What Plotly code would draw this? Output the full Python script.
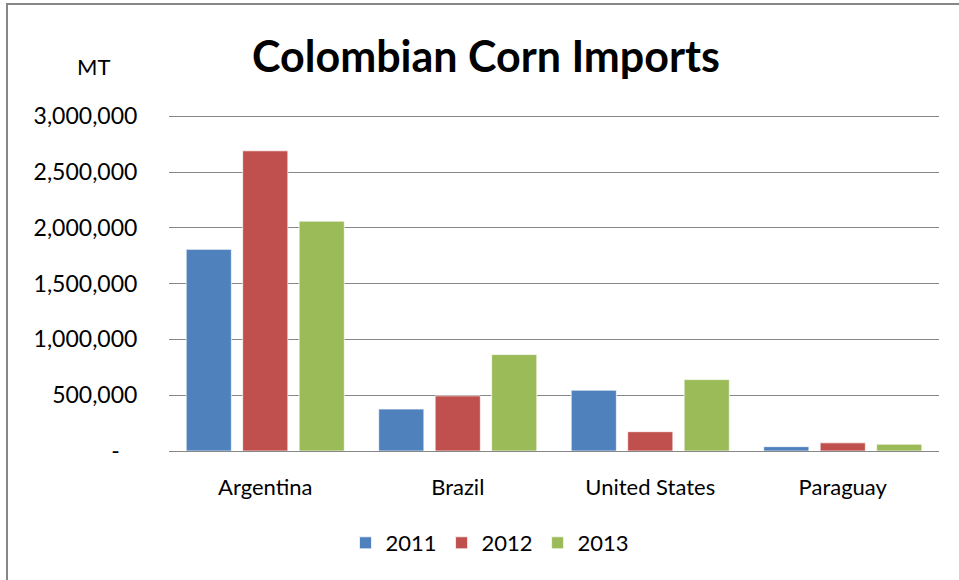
import plotly.graph_objects as go

countries = ["Argentina", "Brazil", "United States", "Paraguay"]
years = ["2011", "2012", "2013"]
imports_2011 = [1807000, 376000, 545000, 39000]
imports_2012 = [2690000, 494000, 173000, 73000]
imports_2013 = [2060000, 864000, 640000, 61000]
series_values = [imports_2011, imports_2012, imports_2013]
colors = ["#4F81BD", "#C0504D", "#9BBB59"]
tick_vals = [0, 500000, 1000000, 1500000, 2000000, 2500000, 3000000]
tick_text = ["-\u00a0\u00a0\u00a0", "500,000", "1,000,000", "1,500,000", "2,000,000", "2,500,000", "3,000,000"]

FONT = "Lato, Calibri, Carlito, sans-serif"

fig = go.Figure()
for yr, vals, col in zip(years, series_values, colors):
    fig.add_trace(go.Bar(
        x=countries, y=vals, name=yr,
        marker=dict(color=col, line=dict(color="rgba(255,255,255,0.7)", width=1)),
    ))

W, H = 959, 580
L, R, T, B = 169, 20, 114, 129
pw = W - L - R
ph = H - T - B
YMAX = 3020000

def px_x(x):
    return (x - L) / pw

def px_y(y):
    return (H - B - y) / ph

fig.update_layout(
    width=W, height=H,
    margin=dict(l=L, r=R, t=T, b=B),
    paper_bgcolor="white", plot_bgcolor="white",
    barmode="group", bargap=0.12, bargroupgap=0.2,
    font=dict(family=FONT, size=22, color="#000000"),
    title=dict(text="<b>Colombian Corn Imports</b>", x=486 / W, xref="container", xanchor="center",
               y=1 - 57 / H, yref="container", yanchor="middle",
               font=dict(family=FONT, size=43, color="#000000")),
    showlegend=True,
    legend=dict(orientation="h", x=px_x(490), xanchor="center", y=px_y(543), yanchor="middle",
                font=dict(family=FONT, size=22, color="#000000"), traceorder="normal"),
    xaxis=dict(showline=True, linecolor="#878787", linewidth=1, showgrid=False,
               ticks="outside", ticklen=17, tickcolor="rgba(0,0,0,0)",
               tickfont=dict(family=FONT, size=22, color="#000000")),
    yaxis=dict(range=[0, YMAX], tickvals=tick_vals, ticktext=tick_text,
               showgrid=True, gridcolor="#878787", gridwidth=1, showline=False, zeroline=False,
               ticks="outside", ticklen=26, tickcolor="rgba(0,0,0,0)",
               tickfont=dict(family=FONT, size=23, color="#000000")),
    annotations=[dict(text="MT", x=px_x(93), y=px_y(67), xref="paper", yref="paper",
                      xanchor="center", yanchor="middle",
                      showarrow=False, font=dict(family=FONT, size=22, color="#000000"))],
    shapes=[dict(type="rect", xref="paper", yref="paper", x0=px_x(7), x1=1.2, y0=-1.0, y1=px_y(4),
                 line=dict(color="#878787", width=2), fillcolor="rgba(0,0,0,0)", layer="below")],
)

fig.write_html("out.html", config={"displayModeBar": False},
               post_script="document.body.style.margin='0';")
